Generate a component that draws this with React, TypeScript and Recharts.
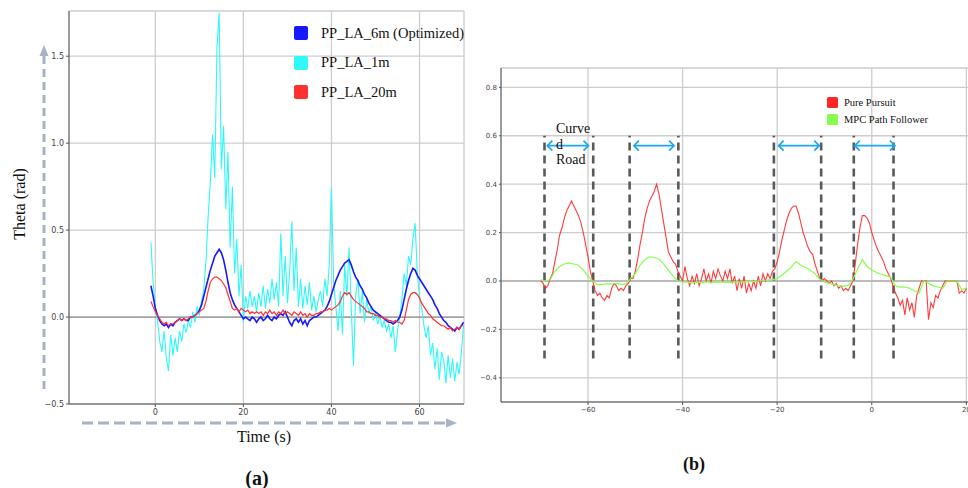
import React from 'react'
import { LineChart, Line, XAxis, YAxis, CartesianGrid, ReferenceLine } from 'recharts'

const SERIF = '"Liberation Serif", "Times New Roman", serif'
const SANS = '"DejaVu Sans", sans-serif'

// ---------- panel (a): steering angle vs time ----------
const aTime = [
  -1, -0.5, 0, 0.5, 1, 1.5, 2, 2.5, 3, 3.5, 4, 4.5, 5, 5.5, 6, 6.5, 7, 7.5, 8, 8.5,
  9, 9.5, 10, 10.5, 11, 11.5, 12, 12.5, 13, 13.5, 14, 14.5, 15, 15.5, 16, 16.5, 17, 17.5, 18, 18.5,
  19, 19.5, 20, 20.5, 21, 21.5, 22, 22.5, 23, 23.5, 24, 24.5, 25, 25.5, 26, 26.5, 27, 27.5, 28, 28.5,
  29, 29.5, 30, 30.5, 31, 31.5, 32, 32.5, 33, 33.5, 34, 34.5, 35, 35.5, 36, 36.5, 37, 37.5, 38, 38.5,
  39, 39.5, 40, 40.5, 41, 41.5, 42, 42.5, 43, 43.5, 44, 44.5, 45, 45.5, 46, 46.5, 47, 47.5, 48, 48.5,
  49, 49.5, 50, 50.5, 51, 51.5, 52, 52.5, 53, 53.5, 54, 54.5, 55, 55.5, 56, 56.5, 57, 57.5, 58, 58.5,
  59, 59.5, 60, 60.5, 61, 61.5, 62, 62.5, 63, 63.5, 64, 64.5, 65, 65.5, 66, 66.5, 67, 67.5, 68, 68.5,
  69, 69.5, 70,
]
const aCyan = [
  0.43, 0.2, 0.06, -0.02, -0.14, -0.2, -0.08, -0.24, -0.31, -0.1,
  -0.22, -0.12, -0.2, -0.08, -0.14, -0.04, -0.09, -0.02, -0.06, 0.03,
  -0.03, 0.06, 0.01, 0.09, 0.16, 0.32, 0.58, 0.78, 1.05, 0.8,
  1.55, 1.75, 0.85, 1.1, 0.62, 0.95, 0.4, 0.75, 0.25, 0.45,
  0.12, 0.3, -0.03, 0.12, 0.05, 0.15, 0.06, 0.12, 0.03, 0.14,
  0.06, 0.18, 0.05, 0.16, 0.08, 0.22, 0.1, 0.2, 0.06, 0.48,
  0.12, 0.35, 0.08, 0.26, 0.55, 0.15, 0.4, 0.06, 0.22, 0.05,
  0.18, 0.07, 0.2, 0.04, 0.12, 0.03, 0.1, 0.15, 0.06, 0.22,
  0.12, 0.3, 0.74, 0.2, 0.06, -0.08, 0.15, -0.1, 0.3, 0.12,
  0.4, 0.05, -0.28, 0.12, 0.22, 0.02, 0.15, -0.03, 0.1, 0.02,
  0.06, -0.02, 0.03, -0.04, 0.01, -0.06, -0.02, -0.08, -0.04, -0.12,
  -0.05, -0.2, -0.08, 0.0, 0.1, 0.25, 0.18, 0.35, 0.3, 0.45,
  0.54, 0.25, 0.12, 0.05, -0.05, -0.12, -0.05, -0.22, -0.15, -0.3,
  -0.18, -0.36, -0.2, -0.25, -0.38, -0.22, -0.35, -0.24, -0.37, -0.26,
  -0.33, -0.2, -0.05,
]
const aBlue = [
  0.18, 0.12, 0.05, 0.01, -0.02, -0.04, -0.05, -0.04, -0.06, -0.04,
  -0.05, -0.03, -0.02, -0.01, -0.02, -0.01, -0.02, -0.02, 0.0, 0.0,
  0.01, 0.02, 0.04, 0.07, 0.12, 0.17, 0.22, 0.27, 0.31, 0.35,
  0.37, 0.39, 0.37, 0.33, 0.27, 0.2, 0.14, 0.1, 0.07, 0.05,
  0.03, 0.01, -0.01, 0.0, -0.01, -0.02, 0.0, -0.01, -0.03, -0.01,
  0.0, -0.02, -0.01, 0.01, -0.01, -0.02, 0.0, -0.01, 0.01, 0.02,
  0.01, 0.03, 0.0, -0.03, -0.05, -0.02, -0.01, -0.03, -0.01, -0.04,
  -0.02, -0.05, -0.02, -0.01, 0.0, 0.0, 0.01, 0.02, 0.03, 0.04,
  0.06, 0.09, 0.13, 0.17, 0.21, 0.24, 0.27, 0.29, 0.31, 0.32,
  0.33, 0.3, 0.26, 0.23, 0.21, 0.18, 0.16, 0.13, 0.11, 0.08,
  0.06, 0.04, 0.03, 0.02, 0.01, 0.0, -0.01, -0.02, -0.03, -0.03,
  -0.04, -0.03, -0.02, 0.0, 0.04, 0.1, 0.16, 0.21, 0.25, 0.28,
  0.27, 0.24, 0.22, 0.2, 0.18, 0.16, 0.14, 0.12, 0.1, 0.07,
  0.05, 0.02, 0.0, -0.02, -0.03, -0.05, -0.06, -0.07, -0.08, -0.06,
  -0.07, -0.05, -0.03,
]
const aRed = [
  0.09, 0.06, 0.03, 0.01, -0.01, -0.03, -0.04, -0.03, -0.05, -0.04,
  -0.04, -0.03, -0.02, -0.01, -0.02, -0.01, -0.02, -0.01, 0.0, 0.0,
  0.01, 0.02, 0.03, 0.04, 0.05, 0.09, 0.15, 0.2, 0.22, 0.23,
  0.23, 0.22, 0.21, 0.19, 0.17, 0.13, 0.09, 0.05, 0.04, 0.05,
  0.03, 0.05, 0.04, 0.03, 0.04, 0.02, 0.03, 0.02, 0.03, 0.02,
  0.03, 0.01, 0.03, 0.02, 0.04, 0.02, 0.03, 0.01, 0.03, 0.02,
  0.04, 0.02, 0.03, 0.02, 0.01, 0.03, 0.02, 0.01, 0.03, 0.01,
  0.02, 0.0, 0.02, 0.01, 0.01, 0.02, 0.02, 0.03, 0.03, 0.04,
  0.04, 0.05, 0.04, 0.05, 0.06, 0.07, 0.09, 0.12, 0.14, 0.13,
  0.14, 0.12, 0.1, 0.09, 0.08, 0.07, 0.06, 0.05, 0.03, 0.03,
  0.02, 0.02, 0.01, 0.01, 0.0, 0.0, -0.01, -0.01, -0.02, -0.02,
  -0.03, -0.02, -0.03, -0.03, -0.04, -0.02, 0.04, 0.1, 0.13, 0.14,
  0.14, 0.13, 0.11, 0.08, 0.06, 0.04, 0.02, 0.01, -0.01, -0.02,
  -0.03, -0.04, -0.05, -0.05, -0.06, -0.07, -0.06, -0.08, -0.07, -0.06,
  -0.07, -0.05, -0.05,
]
const aXTicks = [0, 20, 40, 60]
const aYTicks = [-0.5, 0, 0.5, 1.0, 1.5]
const aLabels = ['PP_LA_6m (Optimized)', 'PP_LA_1m', 'PP_LA_20m']
const aColors = ['#1818ff', '#2ef8f8', '#ff3030']

// ---------- panel (b): pure pursuit vs MPC ----------
const bTimeFine = [
  -70, -69.5, -69, -68.5, -68, -67.5, -67, -66.5, -66, -65.5, -65, -64.5, -64, -63.5, -63, -62.5, -62, -61.5, -61, -60.5,
  -60, -59.5, -59, -58.5, -58, -57.5, -57, -56.5, -56, -55.5, -55, -54.5, -54, -53.5, -53, -52.5, -52, -51.5, -51, -50.5,
  -50, -49.5, -49, -48.5, -48, -47.5, -47, -46.5, -46, -45.5, -45, -44.5, -44, -43.5, -43, -42.5, -42, -41.5, -41, -40.5,
  -40, -39.5, -39, -38.5, -38, -37.5, -37, -36.5, -36, -35.5, -35, -34.5, -34, -33.5, -33, -32.5, -32, -31.5, -31, -30.5,
  -30, -29.5, -29, -28.5, -28, -27.5, -27, -26.5, -26, -25.5, -25, -24.5, -24, -23.5, -23, -22.5, -22, -21.5, -21, -20.5,
  -20, -19.5, -19, -18.5, -18, -17.5, -17, -16.5, -16, -15.5, -15, -14.5, -14, -13.5, -13, -12.5, -12, -11.5, -11, -10.5,
  -10, -9.5, -9, -8.5, -8, -7.5, -7, -6.5, -6, -5.5, -5, -4.5, -4, -3.5, -3, -2.5, -2, -1.5, -1, -0.5,
  0, 0.5, 1, 1.5, 2, 2.5, 3, 3.5, 4, 4.5, 5, 5.5, 6, 6.5, 7, 7.5, 8, 8.5, 9, 9.5,
  10, 10.5, 11, 11.5, 12, 12.5, 13, 13.5, 14, 14.5, 15, 15.5, 16, 16.5, 17, 17.5, 18, 18.5, 19, 19.5,
  20,
]
const bPurePursuit = [
  0.0, -0.01, -0.03, -0.02, 0.01, 0.03, 0.08, 0.13, 0.19, 0.22,
  0.26, 0.29, 0.31, 0.33, 0.31, 0.29, 0.27, 0.24, 0.2, 0.15,
  0.1, 0.04, 0.0, -0.04, -0.06, -0.05, -0.07, -0.08, -0.06, -0.07,
  -0.03, -0.01, -0.02, -0.04, -0.03, -0.04, -0.02, -0.01, 0.01, 0.01,
  0.04, 0.09, 0.15, 0.2, 0.26, 0.3, 0.33, 0.35, 0.37, 0.4,
  0.36, 0.3, 0.24, 0.18, 0.12, 0.1, 0.08, 0.07, 0.04, 0.02,
  0.0, 0.06, 0.01, -0.02, 0.02, -0.01, 0.03, -0.02, 0.01, 0.05,
  0.0, 0.03, -0.01, 0.04, 0.01, 0.05, 0.02, 0.0, 0.04, 0.01,
  0.05, -0.01, 0.02, -0.04, 0.01, -0.03, 0.02, -0.05, -0.01, -0.04,
  0.0, -0.03, 0.02, -0.02, 0.03, 0.0, 0.03, 0.01, 0.04, 0.05,
  0.08, 0.12, 0.17, 0.21, 0.25, 0.28, 0.3, 0.31, 0.31, 0.28,
  0.24, 0.2, 0.17, 0.14, 0.12, 0.11, 0.07, 0.04, 0.01, 0.0,
  0.01, 0.0, -0.01, 0.0, -0.02, -0.01, -0.03, -0.02, -0.04, -0.03,
  -0.04, -0.02, 0.0, 0.07, 0.15, 0.22, 0.27, 0.27, 0.26, 0.24,
  0.2, 0.17, 0.14, 0.12, 0.1, 0.08, 0.05, 0.03, 0.01, -0.02,
  -0.05, -0.07, -0.1, -0.08, -0.14, -0.07, -0.12, -0.09, -0.15, -0.06,
  -0.03, 0.0, 0.0, 0.0, -0.16, -0.09, -0.11, -0.06, -0.07, -0.04,
  -0.02, 0.0, 0.0, 0.0, 0.0, 0.0, 0.0, -0.05, -0.04, -0.05,
  -0.03,
]
const bTime = [
  -70, -69, -68, -67, -66, -65, -64, -63, -62, -61,
  -60, -59, -58, -57, -56, -55, -54, -53, -52, -51,
  -50, -49, -48, -47, -46, -45, -44, -43, -42, -41,
  -40, -39, -38, -37, -36, -35, -34, -33, -32, -31,
  -30, -29, -28, -27, -26, -25, -24, -23, -22, -21,
  -20, -19, -18, -17, -16, -15, -14, -13, -12, -11,
  -10, -9, -8, -7, -6, -5, -4, -3, -2, -1,
  0, 1, 2, 3, 4, 5, 6, 7, 8, 9,
  10, 11, 12, 13, 14, 15, 16, 17, 18, 19,
  20,
]
const bMpc = [
  0.005, 0.0, 0.005, 0.04, 0.06, 0.07, 0.075, 0.07, 0.065, 0.045,
  0.02, 0.0, -0.015, -0.015, -0.012, -0.012, -0.01, -0.015, -0.012, 0.01,
  0.03, 0.065, 0.088, 0.1, 0.098, 0.09, 0.07, 0.045, 0.02, 0.0,
  -0.005, -0.005, -0.008, -0.005, -0.006, -0.004, -0.006, -0.005, -0.004, -0.005,
  -0.006, -0.004, -0.005, -0.004, -0.003, -0.002, 0.0, 0.002, 0.004, 0.006,
  0.01, 0.025, 0.04, 0.058, 0.08, 0.065, 0.056, 0.045, 0.03, 0.008,
  -0.005, -0.01, -0.015, -0.02, -0.022, -0.018, 0.005, 0.05, 0.088, 0.06,
  0.045, 0.035, 0.028, 0.022, 0.015, -0.02, -0.025, -0.025, -0.03, -0.04,
  -0.05, 0.0, -0.01, -0.02, -0.025, -0.03, 0.0, 0.0, 0.0, -0.035,
  -0.03,
]
// curved-road section borders (dashed) and arrow spans
const bBorders = [-69.2, -58.9, -51.2, -40.9, -20.7, -10.7, -3.8, 4.6]
const bArrowFrom = [-68.6, -50.3, -19.7, -3.6]
const bArrowTo = [-59.9, -41.8, -11.1, 4.9]
const bXTicks = [-60, -40, -20, 0, 20]
const bYTicks = [-0.4, -0.2, 0, 0.2, 0.4, 0.6, 0.8]
const bLabels = ['Pure Pursuit', 'MPC Path Follower']
const bColors = ['#ff2626', '#84ff4c']

const minus = (s: string) => s.replace('-', '\u2212')
const fmtInt = (v: number) => minus(String(v))
const fmt1 = (v: number) => minus(v.toFixed(1))

const SpanArrow = (p: any) => {
  const { x1, y1, x2, y2 } = p
  if (x1 == null || x2 == null) return null
  const h = 5
  return (
    <g stroke="#1ea8ec" strokeWidth={1.7} fill="none">
      <line x1={x1} y1={y1} x2={x2} y2={y2} />
      <polyline points={`${x1 + h},${y1 - h} ${x1},${y1} ${x1 + h},${y1 + h}`} />
      <polyline points={`${x2 - h},${y2 - h} ${x2},${y2} ${x2 - h},${y2 + h}`} />
    </g>
  )
}

function PanelA() {
  const cyan = aTime.map((t, i) => ({ t, v: aCyan[i] }))
  const blue = aTime.map((t, i) => ({ t, v: aBlue[i] }))
  const red = aTime.map((t, i) => ({ t, v: aRed[i] }))
  const tick = { fontSize: 8, fill: '#444', fontFamily: SANS }
  return (
    <LineChart width={480} height={420} margin={{ top: 11, right: 16, bottom: 0, left: 0 }}>
      <CartesianGrid stroke="#cdcdcd" strokeWidth={1.3} />
      <XAxis
        type="number"
        dataKey="t"
        domain={[-19.6, 70.1]}
        ticks={aXTicks}
        allowDataOverflow
        height={16}
        tickSize={3}
        tickMargin={2}
        tick={tick}
        stroke="#555"
        tickFormatter={fmtInt}
      />
      <YAxis
        type="number"
        domain={[-0.5, 1.76]}
        ticks={aYTicks}
        allowDataOverflow
        width={69}
        tickSize={3}
        tickMargin={2}
        tick={tick}
        stroke="#555"
        tickFormatter={fmt1}
      />
      <ReferenceLine y={0} stroke="#8e8e8e" strokeWidth={1.2} />
      <Line data={cyan} dataKey="v" stroke={aColors[1]} strokeWidth={1.1} dot={false} isAnimationActive={false} />
      <Line data={blue} dataKey="v" stroke={aColors[0]} strokeWidth={1.6} dot={false} isAnimationActive={false} />
      <Line data={red} dataKey="v" stroke={aColors[2]} strokeWidth={1.2} dot={false} isAnimationActive={false} />
    </LineChart>
  )
}

function PanelB() {
  const pp = bTimeFine.map((t, i) => ({ t, v: bPurePursuit[i] }))
  const mpc = bTime.map((t, i) => ({ t, v: bMpc[i] }))
  const tick = { fontSize: 7, fill: '#444', fontFamily: SANS }
  return (
    <LineChart width={520} height={420} margin={{ top: 68, right: 10, bottom: 0, left: 0 }}>
      <CartesianGrid stroke="#cdcdcd" strokeWidth={1.3} />
      <XAxis
        type="number"
        dataKey="t"
        domain={[-78.4, 25]}
        ticks={bXTicks}
        allowDataOverflow
        height={18}
        tickSize={3}
        tickMargin={2}
        tick={tick}
        stroke="#555"
        tickFormatter={fmtInt}
      />
      <YAxis
        type="number"
        domain={[-0.5, 0.88]}
        ticks={bYTicks}
        allowDataOverflow
        width={21}
        tickSize={2}
        tickMargin={2}
        tick={tick}
        stroke="#555"
        tickFormatter={fmt1}
      />
      <ReferenceLine y={0} stroke="#a0a0a0" strokeWidth={1.2} />
      {bBorders.map((x) => (
        <ReferenceLine
          key={`d${x}`}
          segment={[{ x, y: -0.32 }, { x, y: 0.6 }]}
          stroke="#5a5a5a"
          strokeWidth={2.6}
          strokeDasharray="8 5"
        />
      ))}
      {bArrowFrom.map((x, i) => (
        <ReferenceLine
          key={`a${x}`}
          segment={[{ x, y: 0.559 }, { x: bArrowTo[i], y: 0.559 }]}
          shape={SpanArrow}
        />
      ))}
      <Line data={pp} dataKey="v" stroke={bColors[0]} strokeOpacity={0.9} strokeWidth={1.1} dot={false} isAnimationActive={false} />
      <Line data={mpc} dataKey="v" stroke={bColors[1]} strokeWidth={1.2} dot={false} isAnimationActive={false} />
    </LineChart>
  )
}

const abs = (left: number, top: number): React.CSSProperties => ({ position: 'absolute', left, top })

export default function App() {
  return (
    <div style={{ position: 'absolute', left: 0, top: 0, width: 968, height: 488, overflow: 'hidden', background: '#fff', fontFamily: SERIF, color: '#111' }}>
      <div style={abs(0, 0)}>
        <PanelA />
      </div>
      <div style={abs(480, 0)}>
        <PanelB />
      </div>

      {/* decorative dashed axis arrows of panel (a) */}
      <svg width={968} height={488} style={{ position: 'absolute', left: 0, top: 0, pointerEvents: 'none' }}>
        <line x1={44} y1={389} x2={44} y2={56} stroke="#a6b3c7" strokeWidth={3} strokeDasharray="8 5" />
        <polygon points="44,45 39.5,56 48.5,56" fill="#a6b3c7" />
        <line x1={82} y1={423} x2={446} y2={423} stroke="#a6b3c7" strokeWidth={3} strokeDasharray="11 5" />
        <polygon points="457,423 446,418.5 446,427.5" fill="#a6b3c7" />
      </svg>

      {/* panel (a) labels and legend */}
      <div style={{ ...abs(20, 204), transform: 'translate(-50%, -50%) rotate(-90deg)', fontSize: 16, whiteSpace: 'nowrap' }}>
        Theta (rad)
      </div>
      <div style={{ ...abs(264, 437), transform: 'translate(-50%, -50%)', fontSize: 16, whiteSpace: 'nowrap' }}>Time (s)</div>
      <div style={{ ...abs(257, 478), transform: 'translate(-50%, -50%)', fontSize: 20, fontWeight: 'bold' }}>(a)</div>
      {aLabels.map((label, i) => (
        <div key={label} style={{ ...abs(294, 25 + i * 29.5), display: 'flex', alignItems: 'center', height: 16, fontSize: 14.5, whiteSpace: 'nowrap' }}>
          <span style={{ width: 14, height: 14, borderRadius: 2, background: aColors[i], marginRight: 13 }} />
          {label}
        </div>
      ))}

      {/* panel (b) labels and legend */}
      <div style={{ ...abs(556, 121), fontSize: 14, lineHeight: '15.5px' }}>
        Curve
        <br />d
        <br />
        Road
      </div>
      <div style={{ ...abs(694, 464), transform: 'translate(-50%, -50%)', fontSize: 18, fontWeight: 'bold' }}>(b)</div>
      {bLabels.map((label, i) => (
        <div key={label} style={{ ...abs(827, 95 + i * 17.5), display: 'flex', alignItems: 'center', height: 14, fontSize: 10.5, whiteSpace: 'nowrap' }}>
          <span style={{ width: 11, height: 11, borderRadius: 1.5, background: bColors[i], marginRight: 6 }} />
          {label}
        </div>
      ))}
    </div>
  )
}
